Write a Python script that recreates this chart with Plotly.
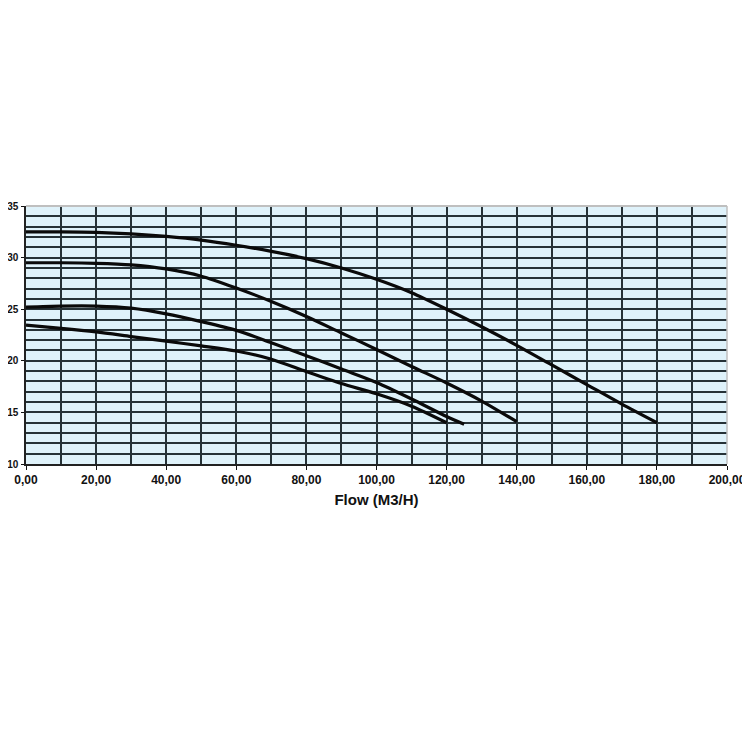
import plotly.graph_objects as go

flow_1 = [0, 10, 20, 30, 40, 50, 60, 70, 80, 90, 100, 110, 120, 130, 140, 150, 160, 170, 180]
head_1 = [32.5, 32.5, 32.45, 32.3, 32.05, 31.7, 31.2, 30.6, 29.9, 29.0, 27.9, 26.6, 25.0, 23.3, 21.5, 19.6, 17.7, 15.8, 14.0]

flow_2 = [0, 10, 20, 30, 40, 50, 60, 70, 80, 90, 100, 110, 120, 130, 140]
head_2 = [29.5, 29.5, 29.45, 29.3, 28.9, 28.2, 27.05, 25.75, 24.3, 22.7, 21.1, 19.45, 17.85, 16.1, 14.1]

flow_3 = [0, 10, 20, 30, 40, 50, 60, 70, 80, 90, 100, 110, 120, 125]
head_3 = [25.2, 25.3, 25.3, 25.1, 24.55, 23.8, 22.95, 21.75, 20.5, 19.2, 17.9, 16.3, 14.6, 13.85]

flow_4 = [0, 10, 20, 30, 40, 50, 60, 70, 80, 90, 100, 110, 120]
head_4 = [23.45, 23.15, 22.8, 22.35, 21.9, 21.45, 20.95, 20.15, 18.95, 17.8, 16.8, 15.6, 14.0]

x_ticks = [0, 20, 40, 60, 80, 100, 120, 140, 160, 180, 200]
x_labels = ["0,00", "20,00", "40,00", "60,00", "80,00", "100,00", "120,00", "140,00", "160,00", "180,00", "200,00"]
y_ticks = [10, 15, 20, 25, 30, 35]

fig = go.Figure()
for fx, hy in [(flow_1, head_1), (flow_2, head_2), (flow_3, head_3), (flow_4, head_4)]:
    fig.add_trace(go.Scatter(x=fx, y=hy, mode="lines",
                             line=dict(color="#0a0a0a", width=3.2, shape="spline", smoothing=0.8),
                             showlegend=False, hoverinfo="skip"))

grid_color = "#263237"
fig.update_layout(
    width=750, height=750,
    margin=dict(l=18, r=31, t=198, b=294),
    paper_bgcolor="white",
    plot_bgcolor="#dff2fa",
    font=dict(family="Liberation Sans, Arial, sans-serif", color="#111"),
    xaxis=dict(
        range=[0, 200], tickvals=x_ticks, ticktext=x_labels, automargin=False,
        tickfont=dict(size=12, family="Liberation Sans, Arial", weight="bold"),
        showgrid=True, gridcolor=grid_color, gridwidth=1.5,
        minor=dict(dtick=10, showgrid=True, gridcolor=grid_color, gridwidth=1.5),
        ticks="outside", ticklen=4, tickcolor="#111",
        showline=True, linecolor="#222", linewidth=1.5,
        zeroline=False,
        title=dict(text="Flow (M3/H)", font=dict(size=15, weight="bold"), standoff=8),
    ),
    yaxis=dict(
        range=[10, 35], tickvals=y_ticks, automargin=False,
        tickfont=dict(size=10, family="Liberation Sans, Arial", weight="bold"),
        showgrid=True, gridcolor=grid_color, gridwidth=1.5,
        minor=dict(dtick=1, showgrid=True, gridcolor=grid_color, gridwidth=1.5),
        ticks="outside", ticklen=3, tickcolor="#111",
        showline=True, linecolor="#222", linewidth=1.5,
        zeroline=False, ticklabelstandoff=1,
    ),
)
fig.add_shape(type="line", xref="paper", yref="paper", x0=0, x1=1, y0=1, y1=1,
              line=dict(color="#bfbfbf", width=2))
fig.add_shape(type="line", xref="paper", yref="paper", x0=1, x1=1, y0=0, y1=1,
              line=dict(color="#bfbfbf", width=1.5))

fig.write_html("out.html")
